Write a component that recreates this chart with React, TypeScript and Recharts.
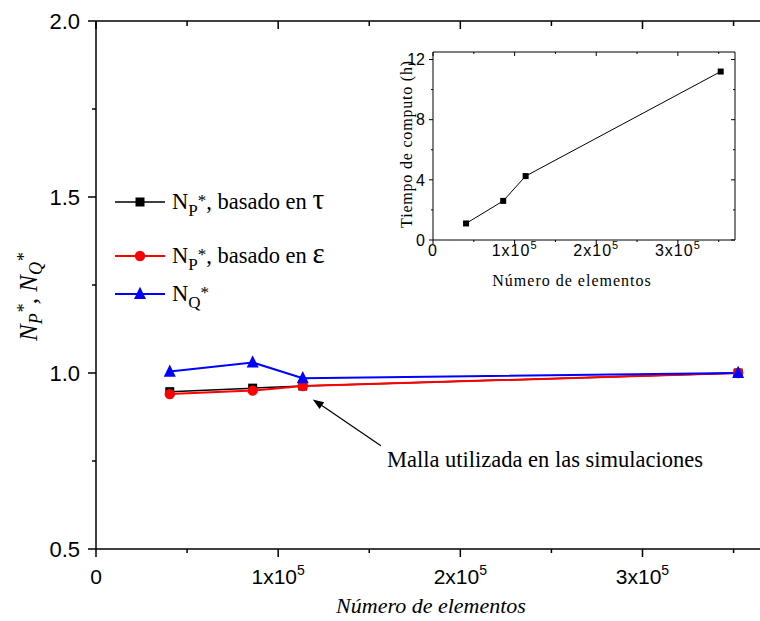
import React from "react";
import { LineChart, Line, XAxis, YAxis, Legend, ReferenceLine, ReferenceDot } from "recharts";

// ---------- data ----------
const elementos = [40500, 86000, 113500, 352500];
const npTau = [0.947, 0.957, 0.963, 1.0];
const npEps = [0.94, 0.95, 0.963, 1.0];
const nq = [1.004, 1.03, 0.985, 1.0];
const tiempo = [1.1, 2.6, 4.25, 11.2];

const xTicks = [0, 50000, 100000, 150000, 200000, 250000, 300000, 350000];
const mainYTicks = [0.5, 0.75, 1, 1.25, 1.5, 1.75, 2];
const insetYTicks = [0, 2, 4, 6, 8, 10, 12];

const seriesNames = {
  npTau: "NP*, basado en τ",
  npEps: "NP*, basado en ε",
  nq: "NQ*",
};

const arrowTail = { x: 156400, y: 0.7935 };
const arrowTip = { x: 119000, y: 0.925 };
const noteAnchor = { x: 159700, y: 0.733 };
const noteText = "Malla utilizada en las simulaciones";

const mainData = elementos.map((x, i) => ({ x, npTau: npTau[i], npEps: npEps[i], nq: nq[i] }));
const insetData = elementos.map((x, i) => ({ x, t: tiempo[i] }));

// ---------- styles ----------
const SANS = "'Liberation Sans', Arial, Helvetica, sans-serif";
const SERIF = "'Liberation Serif', 'Times New Roman', Times, serif";

type TickOpts = {
  side: "bottom" | "top" | "left" | "right";
  major: number;
  len: number;
  minorLen: number;
  sw: number;
  label?: "x" | "y";
  fmt?: (v: number) => string;
  fontSize?: number;
  gap?: number;
  supSize?: number;
  supDy?: number;
  ls?: number;
};

const makeTick = (o: TickOpts) => (props: any) => {
  const { x, y, payload, index } = props;
  const v = payload.value as number;
  const r = v / o.major;
  const isMajor = Math.abs(r - Math.round(r)) < 1e-6;
  const L = isMajor ? o.len : o.minorLen;
  let x2 = x;
  let y2 = y;
  if (o.side === "bottom") y2 = y + L;
  if (o.side === "top") y2 = y + L;
  if (o.side === "left") x2 = x - L;
  if (o.side === "right") x2 = x - L;
  let label: any = null;
  if (o.label && isMajor) {
    if (o.label === "x") {
      const m = Math.round(v / 1e5);
      label = (
        <text x={x} y={y + (o.gap || 0)} textAnchor="middle" fontFamily={SANS} fontSize={o.fontSize} letterSpacing={o.ls || 0} fill="#000">
          {v === 0 ? (
            "0"
          ) : (
            <>
              <tspan>{`${m}x10`}</tspan>
              <tspan fontSize={o.supSize} dy={o.supDy}>5</tspan>
            </>
          )}
        </text>
      );
    } else {
      label = (
        <text x={x - (o.gap || 0)} y={y} dy={(o.fontSize || 12) * 0.36} textAnchor="end" fontFamily={SANS} fontSize={o.fontSize} letterSpacing={o.ls || 0} fill="#000">
          {o.fmt ? o.fmt(v) : String(v)}
        </text>
      );
    }
  }
  return (
    <g key={`t${index}`}>
      <line x1={x} y1={y} x2={x2} y2={y2} stroke="#000" strokeWidth={o.sw} />
      {label}
    </g>
  );
};

const MainBottomTick = makeTick({ side: "bottom", major: 100000, len: 8, minorLen: 4, sw: 1.5, label: "x", fontSize: 21, gap: 35, supSize: 14, supDy: -9 });
const MainTopTick = makeTick({ side: "top", major: 100000, len: 8, minorLen: 5, sw: 1.5 });
const MainLeftTick = makeTick({ side: "left", major: 0.5, len: 8, minorLen: 4, sw: 1.5, label: "y", fmt: (v) => v.toFixed(1), fontSize: 22, gap: 16 });

const InsetBottomTick = makeTick({ side: "bottom", major: 100000, len: 4, minorLen: 2, sw: 1, label: "x", fontSize: 16, gap: 16, supSize: 11, supDy: -7, ls: 1 });
const InsetTopTick = makeTick({ side: "top", major: 100000, len: 4, minorLen: 2, sw: 1 });
const InsetLeftTick = makeTick({ side: "left", major: 4, len: 4, minorLen: 2, sw: 1, label: "y", fmt: (v) => String(v), fontSize: 16, gap: 8 });
const InsetRightTick = makeTick({ side: "right", major: 4, len: 4, minorLen: 2, sw: 1 });

// ---------- markers ----------
const squareEl = (cx: number, cy: number, s: number, fill: string, key?: string) => (
  <rect key={key} x={cx - s / 2} y={cy - s / 2} width={s} height={s} fill={fill} />
);
const circleEl = (cx: number, cy: number, r: number, fill: string, key?: string) => (
  <circle key={key} cx={cx} cy={cy} r={r} fill={fill} />
);
const triEl = (cx: number, cy: number, s: number, fill: string, key?: string) => (
  <polygon key={key} points={`${cx},${cy - s * 0.6} ${cx - s / 2},${cy + s * 0.42} ${cx + s / 2},${cy + s * 0.42}`} fill={fill} />
);

const BlackSquare = (p: any) => (p.cx == null ? null : squareEl(p.cx, p.cy, 9, "#000", `s${p.index}`));
const RedCircle = (p: any) => (p.cx == null ? null : circleEl(p.cx, p.cy, 5.2, "#ff0000", `c${p.index}`));
const BlueTri = (p: any) => (p.cx == null ? null : triEl(p.cx, p.cy, 12, "#0000ff", `tr${p.index}`));
const SmallSquare = (p: any) => (p.cx == null ? null : squareEl(p.cx, p.cy, 6, "#000", `ss${p.index}`));

// ---------- legend ----------
const legendRows: Record<string, number> = { npTau: 14, npEps: 68, nq: 106 };

const legendText = (key: string, x: number, y: number) => {
  const sub = key === "nq" ? "Q" : "P";
  const tail = key === "npTau" ? "τ" : key === "npEps" ? "ε" : null;
  return (
    <text x={x} y={y} fontFamily={SERIF} fontSize={22.5} fill="#000">
      <tspan>N</tspan>
      <tspan fontSize={17} dy={7}>{sub}</tspan>
      <tspan fontSize={17} dy={-10}>*</tspan>
      {tail ? (
        <>
          <tspan dy={3}>, basado en </tspan>
          <tspan fontSize={29}>{tail}</tspan>
        </>
      ) : null}
    </text>
  );
};

const LegendContent = (props: any) => {
  const payload = props.payload || [];
  return (
    <svg width={270} height={125} style={{ display: "block", overflow: "visible" }}>
      {payload.map((entry: any) => {
        const key = String(entry.dataKey);
        const y = legendRows[key];
        if (y === undefined) return null;
        const c = entry.color;
        const marker =
          key === "npTau" ? squareEl(25, y, 9, c) : key === "npEps" ? circleEl(25, y, 5.2, c) : triEl(25, y, 12, c);
        return (
          <g key={key}>
            <line x1={0} x2={50} y1={y} y2={y} stroke={c} strokeWidth={key === "npTau" ? 1.5 : 2} />
            {marker}
            {legendText(key, 57, y + 7)}
          </g>
        );
      })}
    </svg>
  );
};

// ---------- titles & annotations ----------
const MainXTitle = (p: any) => {
  const vb = p.viewBox || {};
  return (
    <text x={(vb.x || 0) + 335} y={(vb.y || 0) + 64} textAnchor="middle" fontFamily={SERIF} fontStyle="italic" fontSize={22} fill="#000">
      Número de elementos
    </text>
  );
};

const MainYTitle = (p: any) => {
  const vb = p.viewBox || {};
  const cx = (vb.x || 0) + 29;
  const cy = (vb.y || 0) + (vb.height || 0) / 2 + 12;
  return (
    <text transform={`translate(${cx},${cy}) rotate(-90)`} textAnchor="middle" fontFamily={SERIF} fontStyle="italic" fontSize={25} fill="#000">
      <tspan>N</tspan>
      <tspan fontSize={18} dy={5}>P</tspan>
      <tspan fontSize={18} dy={-12}>*</tspan>
      <tspan dy={7}>, N</tspan>
      <tspan fontSize={18} dy={5}>Q</tspan>
      <tspan fontSize={18} dy={-12}>*</tspan>
    </text>
  );
};

const InsetXTitle = (p: any) => {
  const vb = p.viewBox || {};
  return (
    <text x={(vb.x || 0) + 139} y={(vb.y || 0) + 46} textAnchor="middle" fontFamily={SERIF} fontSize={16} letterSpacing={1} fill="#000">
      Número de elementos
    </text>
  );
};

const InsetYTitle = (p: any) => {
  const vb = p.viewBox || {};
  const cx = (vb.x || 0) + 39;
  const cy = (vb.y || 0) + (vb.height || 0) / 2 - 2;
  return (
    <text transform={`translate(${cx},${cy}) rotate(-90)`} textAnchor="middle" fontFamily={SERIF} fontSize={16} letterSpacing={0.8} fill="#000">
      Tiempo de computo (h)
    </text>
  );
};

const ArrowShape = (p: any) => {
  const { x1, y1, x2, y2 } = p;
  if ([x1, y1, x2, y2].some((v) => typeof v !== "number" || isNaN(v))) return null;
  const ang = Math.atan2(y2 - y1, x2 - x1);
  const L = 11;
  const W = 4;
  const bx = x2 - L * Math.cos(ang);
  const by = y2 - L * Math.sin(ang);
  const px = -Math.sin(ang) * W;
  const py = Math.cos(ang) * W;
  return (
    <g>
      <line x1={x1} y1={y1} x2={bx} y2={by} stroke="#000" strokeWidth={1.2} />
      <polygon points={`${x2},${y2} ${bx + px},${by + py} ${bx - px},${by - py}`} fill="#000" />
    </g>
  );
};

const NoteShape = (p: any) =>
  p.cx == null ? null : (
    <text x={p.cx} y={p.cy} fontFamily={SERIF} fontSize={22.5} fill="#000">
      {noteText}
    </text>
  );

const axisLineMain = { stroke: "#000", strokeWidth: 1.5 };
const axisLineInset = { stroke: "#000", strokeWidth: 1 };

export default function App() {
  return (
    <div style={{ position: "absolute", left: 8, top: 8, width: 752, height: 613, overflow: "hidden", background: "#fff" }}>
      <LineChart width={762} height={613} data={mainData} margin={{ top: 12, right: 0, left: 0, bottom: 0 }}>
        <XAxis
          xAxisId="b"
          dataKey="x"
          type="number"
          domain={[0, 370000]}
          allowDataOverflow
          ticks={xTicks}
          interval={0}
          tickSize={0}
          tickMargin={0}
          tickLine={false}
          axisLine={axisLineMain}
          tick={MainBottomTick}
          height={72}
          label={MainXTitle}
        />
        <XAxis
          xAxisId="t"
          orientation="top"
          dataKey="x"
          type="number"
          domain={[0, 370000]}
          allowDataOverflow
          ticks={xTicks}
          interval={0}
          tickSize={0}
          tickMargin={0}
          tickLine={false}
          axisLine={axisLineMain}
          tick={MainTopTick}
          height={1}
        />
        <YAxis
          yAxisId="l"
          type="number"
          domain={[0.5, 2]}
          allowDataOverflow
          ticks={mainYTicks}
          interval={0}
          tickSize={0}
          tickMargin={0}
          tickLine={false}
          axisLine={axisLineMain}
          tick={MainLeftTick}
          width={88}
          label={MainYTitle}
        />
        <Line xAxisId="b" yAxisId="l" type="linear" dataKey="npTau" name={seriesNames.npTau} stroke="#000000" strokeWidth={1.5} dot={BlackSquare} activeDot={false} isAnimationActive={false} />
        <Line xAxisId="b" yAxisId="l" type="linear" dataKey="npEps" name={seriesNames.npEps} stroke="#ff0000" strokeWidth={2} dot={RedCircle} activeDot={false} isAnimationActive={false} />
        <Line xAxisId="b" yAxisId="l" type="linear" dataKey="nq" name={seriesNames.nq} stroke="#0000ff" strokeWidth={2} dot={BlueTri} activeDot={false} isAnimationActive={false} />
        <ReferenceLine xAxisId="b" yAxisId="l" segment={[arrowTail, arrowTip]} shape={ArrowShape} ifOverflow="visible" />
        <ReferenceDot xAxisId="b" yAxisId="l" x={noteAnchor.x} y={noteAnchor.y} r={0} shape={NoteShape} ifOverflow="visible" />
        <Legend
          layout="horizontal"
          verticalAlign="middle"
          align="center"
          content={LegendContent}
          wrapperStyle={{ left: 107, top: 180, width: 270, height: 125 }}
        />
      </LineChart>

      <div style={{ position: "absolute", left: 365, top: 32 }}>
        <LineChart width={367} height={255} data={insetData} margin={{ top: 11, right: 4, left: 0, bottom: 0 }}>
          <XAxis
            xAxisId="b"
            dataKey="x"
            type="number"
            domain={[0, 370000]}
            allowDataOverflow
            ticks={xTicks}
            interval={0}
            tickSize={0}
            tickMargin={0}
            tickLine={false}
            axisLine={axisLineInset}
            tick={InsetBottomTick}
            height={55}
            label={InsetXTitle}
          />
          <XAxis
            xAxisId="t"
            orientation="top"
            dataKey="x"
            type="number"
            domain={[0, 370000]}
            allowDataOverflow
            ticks={xTicks}
            interval={0}
            tickSize={0}
            tickMargin={0}
            tickLine={false}
            axisLine={axisLineInset}
            tick={InsetTopTick}
            height={1}
          />
          <YAxis
            yAxisId="l"
            type="number"
            domain={[0, 12.5]}
            allowDataOverflow
            ticks={insetYTicks}
            interval={0}
            tickSize={0}
            tickMargin={0}
            tickLine={false}
            axisLine={axisLineInset}
            tick={InsetLeftTick}
            width={60}
            label={InsetYTitle}
          />
          <YAxis
            yAxisId="r"
            orientation="right"
            type="number"
            domain={[0, 12.5]}
            allowDataOverflow
            ticks={insetYTicks}
            interval={0}
            tickSize={0}
            tickMargin={0}
            tickLine={false}
            axisLine={axisLineInset}
            tick={InsetRightTick}
            width={1}
          />
          <Line xAxisId="b" yAxisId="l" type="linear" dataKey="t" name="Tiempo de computo (h)" stroke="#000" strokeWidth={1} dot={SmallSquare} activeDot={false} legendType="none" isAnimationActive={false} />
        </LineChart>
      </div>
    </div>
  );
}
